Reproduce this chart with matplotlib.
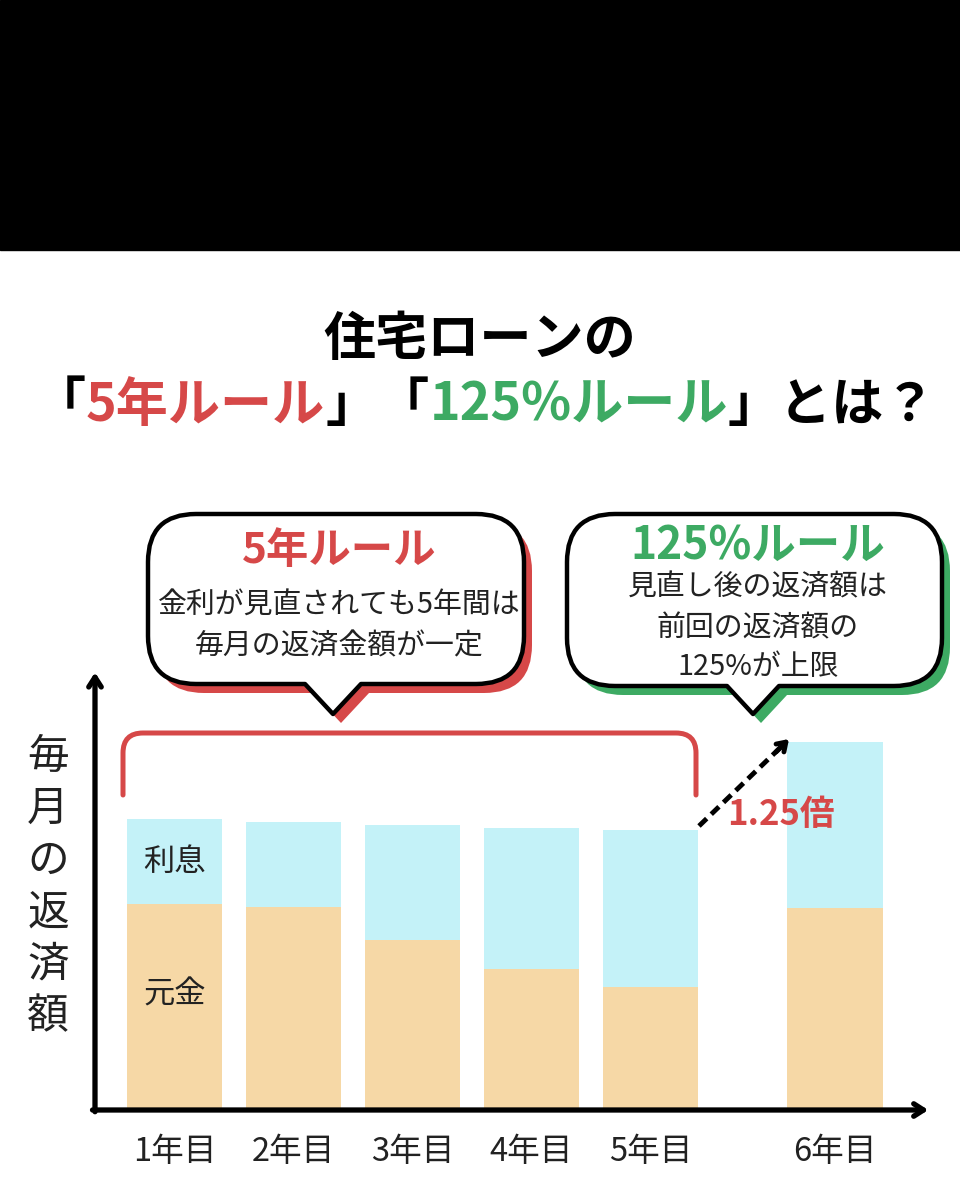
import matplotlib
matplotlib.use("Agg")
import matplotlib.pyplot as plt
from matplotlib.path import Path
from matplotlib.patches import PathPatch, Rectangle

plt.rcParams['font.family'] = ['Noto Sans CJK JP', 'DejaVu Sans']

# data (monthly repayment, arbitrary units)
years = ["1年目", "2年目", "3年目", "4年目", "5年目", "6年目"]
principal = [206, 203, 170, 141, 123, 202]
interest = [85, 85, 115, 141, 157, 166]
xpos = [0, 1, 2, 3, 4, 5.55]

RED = "#d64848"
GREEN = "#3daa63"
BLUE = "#c4f2f8"
PEACH = "#f6d8a6"
INK = "#222222"

fig = plt.figure(figsize=(9.6, 11.9), dpi=100)

# bar chart axes, placed so that the axis lines sit where they do in the picture
W, H = 960, 1190
ax = fig.add_axes([95 / W, (H - 1110) / H, 830 / W, 435 / H])
ax.bar(xpos, principal, width=0.8, color=PEACH, zorder=2)
ax.bar(xpos, interest, width=0.8, bottom=principal, color=BLUE, zorder=2)
ax.set_xlim(-0.668, 6.307)
ax.set_ylim(0, 435)
ax.set_xticks(xpos, years, fontsize=23.5, color=INK)
ax.tick_params(axis='x', length=0, pad=19)
ax.set_yticks([])
for s in ax.spines.values():
    s.set_visible(False)

arrow_kw = dict(arrowstyle='->,head_length=0.7,head_width=0.45', lw=3.8,
                color='black', shrinkA=0, shrinkB=0, capstyle='round')
ax.annotate('', xy=(0, 1.006), xytext=(0, -0.004), xycoords='axes fraction',
            arrowprops=arrow_kw, annotation_clip=False)
ax.annotate('', xy=(1.004, 0), xytext=(-0.003, 0), xycoords='axes fraction',
            arrowprops=arrow_kw, annotation_clip=False)

ax.text(xpos[0], principal[0] + interest[0] / 2, "利息", ha='center', va='center',
        fontsize=22.5, color=INK, zorder=3)
ax.text(xpos[0], principal[0] / 2 + 12, "元金", ha='center', va='center',
        fontsize=22.5, color=INK, zorder=3)

# overlay in pixel coordinates for the decorations
ov = fig.add_axes([0, 0, 1, 1])
ov.set_xlim(0, W)
ov.set_ylim(H, 0)
ov.axis('off')

ov.add_patch(Rectangle((0, 0), W, 250, color='black', zorder=1))

# title
ov.text(480, 340, "住宅ローンの", ha='center', va='center', fontsize=37.5,
        fontweight='bold', color='black')
pieces = [("「", 'black'), ("5年ルール", RED), ("」「", 'black'),
          ("125%ルール", GREEN), ("」とは？", 'black')]
r = fig.canvas.get_renderer()
objs = []
for s, c in pieces:
    t = ov.text(0, 405, s, ha='left', va='center', fontsize=37.5,
                fontweight='bold', color=c)
    objs.append(t)
widths = [t.get_window_extent(r).width for t in objs]
x = 485 - sum(widths) / 2
for t, w in zip(objs, widths):
    t.set_x(x)
    x += w


def bubble(x0, y0, x1, y1, rad, tx, tw, ty):
    verts = [(x0 + rad, y0), (x1 - rad, y0), (x1, y0), (x1, y0 + rad),
             (x1, y1 - rad), (x1, y1), (x1 - rad, y1),
             (tx + tw / 2, y1), (tx, ty), (tx - tw / 2, y1),
             (x0 + rad, y1), (x0, y1), (x0, y1 - rad),
             (x0, y0 + rad), (x0, y0), (x0 + rad, y0), (x0 + rad, y0)]
    codes = [Path.MOVETO, Path.LINETO, Path.CURVE3, Path.CURVE3,
             Path.LINETO, Path.CURVE3, Path.CURVE3,
             Path.LINETO, Path.LINETO, Path.LINETO,
             Path.LINETO, Path.CURVE3, Path.CURVE3,
             Path.LINETO, Path.CURVE3, Path.CURVE3, Path.CLOSEPOLY]
    return verts, codes


def callout(box, tail, shadow):
    v, c = bubble(*box, 48, *tail)
    sv = [(a + 8, b + 9) for a, b in v]
    ov.add_patch(PathPatch(Path(sv, c), facecolor=shadow, edgecolor='none', zorder=4))
    ov.add_patch(PathPatch(Path(v, c), facecolor='white', edgecolor='black',
                           lw=3.2, joinstyle='round', zorder=5))


callout((148, 514, 524, 684), (333, 56, 714), RED)
callout((567, 514, 942, 686), (753, 52, 714), GREEN)

ov.text(339, 551, "5年ルール", ha='center', va='center', fontsize=30.5,
        fontweight='bold', color=RED, zorder=6)
ov.text(339, 606, "金利が見直されても5年間は", ha='center', va='center',
        fontsize=20.8, color=INK, zorder=6)
ov.text(339, 646, "毎月の返済金額が一定", ha='center', va='center',
        fontsize=20.8, color=INK, zorder=6)

ov.text(758, 546, "125%ルール", ha='center', va='center', fontsize=32,
        fontweight='bold', color=GREEN, zorder=6)
ov.text(758, 587, "見直し後の返済額は", ha='center', va='center',
        fontsize=20.8, color=INK, zorder=6)
ov.text(758, 628, "前回の返済額の", ha='center', va='center',
        fontsize=20.8, color=INK, zorder=6)
ov.text(758, 667, "125%が上限", ha='center', va='center',
        fontsize=20.8, color=INK, zorder=6)

# red bracket over years 1-5
br = 20
bv = [(123, 795), (123, 733 + br), (123, 733), (123 + br, 733),
      (696 - br, 733), (696, 733), (696, 733 + br), (696, 795)]
bc = [Path.MOVETO, Path.LINETO, Path.CURVE3, Path.CURVE3,
      Path.LINETO, Path.CURVE3, Path.CURVE3, Path.LINETO]
ov.add_patch(PathPatch(Path(bv, bc), facecolor='none', edgecolor=RED, lw=3.6,
                       capstyle='round', zorder=3))

# dashed arrow 5年目 -> 6年目
ov.plot([699, 783], [826, 745], color='black', lw=3.5, ls=(0, (2.2, 1.3)), zorder=4)
ov.annotate('', xy=(789, 739), xytext=(776, 752),
            arrowprops=dict(arrowstyle='->,head_length=0.6,head_width=0.4',
                            lw=3.5, color='black', shrinkA=0, shrinkB=0))
ov.text(781, 815, "1.25倍", ha='center', va='center', fontsize=25,
        fontweight='bold', color=RED, zorder=4)

# vertical y label
for i, ch in enumerate("毎月の返済額"):
    ov.text(48, 757 + i * 52, ch, ha='center', va='center', fontsize=30, color=INK)

fig.savefig("out.png", dpi=100)
